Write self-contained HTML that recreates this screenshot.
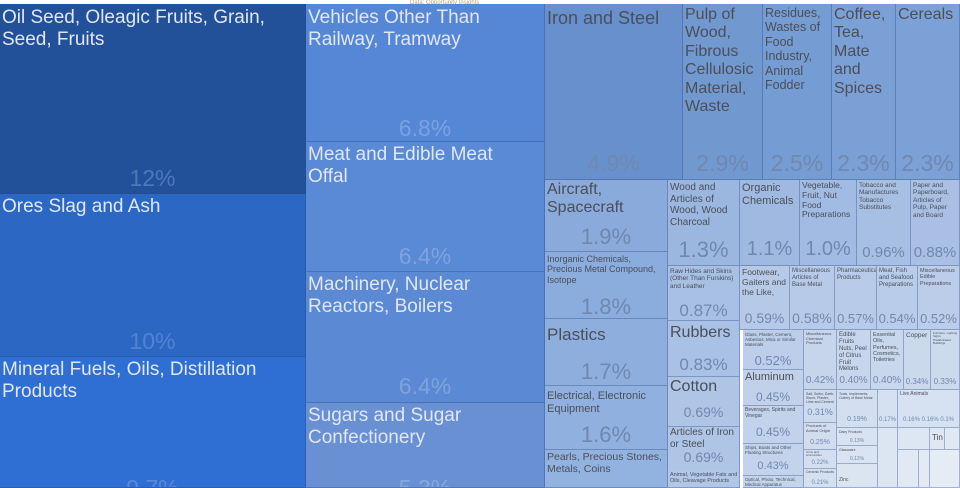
<!DOCTYPE html>
<html><head><meta charset="utf-8"><style>
html,body{margin:0;padding:0;background:#fff;}
#c{position:relative;width:960px;height:488px;overflow:hidden;font-family:"Liberation Sans",sans-serif;background:#fff;}
.b{position:absolute;box-sizing:border-box;overflow:hidden;border-right:1px solid rgba(40,70,130,0.35);border-bottom:1px solid rgba(40,70,130,0.35);}
.l{position:absolute;left:2px;top:1px;right:1px;line-height:1.15;}
.p{position:absolute;left:0;right:0;text-align:center;}
.d .l{color:#dfe7f6;}
.d .p{color:#6a93d3;}
.m .l{color:#4a4f5a;}
.m .p{color:#7088b0;}
</style></head><body><div id="c">
<div style="position:absolute;left:410px;top:0;font-size:6px;color:#c9a070;">Data: Opportunity Insights</div>

<div class="b d" style="left:0;top:4px;width:306px;height:190px;background:#22519a;"><div class="l" style="font-size:19px;top:3px;">Oil Seed, Oleagic Fruits, Grain, Seed, Fruits</div><div class="p" style="font-size:23px;top:161px;color:#4d78b9;">12%</div></div>
<div class="b d" style="left:0;top:194px;width:306px;height:163px;background:#2c67c4;"><div class="l" style="font-size:19px;top:2px;">Ores Slag and Ash</div><div class="p" style="font-size:23px;top:134px;color:#5483cd;">10%</div></div>
<div class="b d" style="left:0;top:357px;width:306px;height:131px;background:#2f6ed2;"><div class="l" style="font-size:19px;top:2px;">Mineral Fuels, Oils, Distillation Products</div><div class="p" style="font-size:23px;top:118px;color:#5a8ad8;">9.7%</div></div>

<div class="b d" style="left:306px;top:4px;width:239px;height:138px;background:#5587d6;"><div class="l" style="font-size:19px;top:3px;">Vehicles Other Than Railway, Tramway</div><div class="p" style="font-size:23px;top:111px;color:#7ba2e0;">6.8%</div></div>
<div class="b d" style="left:306px;top:142px;width:239px;height:130px;background:#5a89d5;"><div class="l" style="font-size:19px;top:2px;right:20px;">Meat and Edible Meat Offal</div><div class="p" style="font-size:23px;top:101px;color:#7ea3de;">6.4%</div></div>
<div class="b d" style="left:306px;top:272px;width:239px;height:131px;background:#5b89d4;"><div class="l" style="font-size:19px;top:2px;">Machinery, Nuclear Reactors, Boilers</div><div class="p" style="font-size:23px;top:101px;color:#7ea3de;">6.4%</div></div>
<div class="b d" style="left:306px;top:403px;width:239px;height:85px;background:#6890d2;"><div class="l" style="font-size:19px;top:2px;">Sugars and Sugar Confectionery</div><div class="p" style="font-size:23px;top:72px;color:#87a9df;">5.3%</div></div>

<div class="b m" style="left:545px;top:4px;width:138px;height:176px;background:#6790cc;"><div class="l" style="font-size:18px;top:4px;">Iron and Steel</div><div class="p" style="font-size:23px;top:146px;">4.9%</div></div>
<div class="b m" style="left:683px;top:4px;width:80px;height:176px;background:#7199d0;"><div class="l" style="font-size:16px;top:2px;">Pulp of Wood, Fibrous Cellulosic Material, Waste</div><div class="p" style="font-size:23px;top:146px;">2.9%</div></div>
<div class="b m" style="left:763px;top:4px;width:69px;height:176px;background:#769dd3;"><div class="l" style="font-size:12.5px;top:2px;">Residues, Wastes of Food Industry, Animal Fodder</div><div class="p" style="font-size:23px;top:146px;">2.5%</div></div>
<div class="b m" style="left:832px;top:4px;width:64px;height:176px;background:#7aa0d5;"><div class="l" style="font-size:16px;top:2px;">Coffee, Tea, Mate and Spices</div><div class="p" style="font-size:23px;top:146px;">2.3%</div></div>
<div class="b m" style="left:896px;top:4px;width:64px;height:176px;background:#7ca1d6;"><div class="l" style="font-size:16px;top:2px;">Cereals</div><div class="p" style="font-size:23px;top:146px;">2.3%</div></div>

<div class="b m" style="left:545px;top:180px;width:123px;height:72px;background:#89aadb;"><div class="l" style="font-size:16px;">Aircraft, Spacecraft</div><div class="p" style="font-size:22px;top:44px;">1.9%</div></div>
<div class="b m" style="left:545px;top:252px;width:123px;height:67px;background:#8badde;"><div class="l" style="font-size:9px;top:2px;">Inorganic Chemicals, Precious Metal Compound, Isotope</div><div class="p" style="font-size:22px;top:42px;">1.8%</div></div>
<div class="b m" style="left:545px;top:319px;width:123px;height:67px;background:#8eafde;"><div class="l" style="font-size:17px;top:6px;">Plastics</div><div class="p" style="font-size:22px;top:40px;">1.7%</div></div>
<div class="b m" style="left:545px;top:386px;width:123px;height:64px;background:#90b0df;"><div class="l" style="font-size:11px;top:4px;">Electrical, Electronic Equipment</div><div class="p" style="font-size:22px;top:36px;">1.6%</div></div>
<div class="b m" style="left:545px;top:450px;width:123px;height:38px;background:#92b2df;"><div class="l" style="font-size:10.5px;top:1px;">Pearls, Precious Stones, Metals, Coins</div></div>

<div class="b m" style="left:668px;top:180px;width:72px;height:86px;background:#9bb7e0;"><div class="l" style="font-size:10px;top:2px;">Wood and Articles of Wood, Wood Charcoal</div><div class="p" style="font-size:22px;top:57px;">1.3%</div></div>
<div class="b m" style="left:668px;top:266px;width:72px;height:55px;background:#a8c0e4;"><div class="l" style="font-size:6.5px;top:2px;">Raw Hides and Skins (Other Than Furskins) and Leather</div><div class="p" style="font-size:17px;top:35px;">0.87%</div></div>
<div class="b m" style="left:668px;top:321px;width:72px;height:56px;background:#a9c1e5;"><div class="l" style="font-size:16px;top:3px;">Rubbers</div><div class="p" style="font-size:17px;top:34px;">0.83%</div></div>
<div class="b m" style="left:668px;top:377px;width:72px;height:50px;background:#afc5e6;"><div class="l" style="font-size:16px;top:1px;">Cotton</div><div class="p" style="font-size:14px;top:27px;">0.69%</div></div>
<div class="b m" style="left:668px;top:427px;width:72px;height:49px;background:#afc5e6;"><div class="l" style="font-size:10px;top:0;">Articles of Iron or Steel</div><div class="p" style="font-size:14px;top:22px;">0.69%</div></div>
<div class="b m" style="left:668px;top:470px;width:72px;height:18px;background:#b1c7e7;"><div class="l" style="font-size:5.5px;top:2px;">Animal, Vegetable Fats and Oils, Cleavage Products</div></div>

<div class="b m" style="left:740px;top:180px;width:60px;height:86px;background:#9fb9e1;"><div class="l" style="font-size:11px;top:2px;">Organic Chemicals</div><div class="p" style="font-size:20px;top:58px;">1.1%</div></div>
<div class="b m" style="left:800px;top:180px;width:57px;height:86px;background:#a2bbe2;"><div class="l" style="font-size:8.5px;top:1px;">Vegetable, Fruit, Nut Food Preparations</div><div class="p" style="font-size:20px;top:58px;">1.0%</div></div>
<div class="b m" style="left:857px;top:180px;width:54px;height:86px;background:#a7bfe3;"><div class="l" style="font-size:6.5px;top:2px;">Tobacco and Manufactures Tobacco Substitutes</div><div class="p" style="font-size:15px;top:64px;">0.96%</div></div>
<div class="b m" style="left:911px;top:180px;width:49px;height:86px;background:#a9c0e4;"><div class="l" style="font-size:6.5px;top:2px;">Paper and Paperboard, Articles of Pulp, Paper and Board</div><div class="p" style="font-size:15px;top:64px;">0.88%</div></div>

<div class="b m" style="left:740px;top:266px;width:50px;height:64px;background:#b6cae8;"><div class="l" style="font-size:8.5px;top:2px;">Footwear, Gaiters and the Like,</div><div class="p" style="font-size:14px;top:44px;">0.59%</div></div>
<div class="b m" style="left:790px;top:266px;width:45px;height:64px;background:#b7cbe8;"><div class="l" style="font-size:6px;top:2px;">Miscellaneous Articles of Base Metal</div><div class="p" style="font-size:14px;top:44px;">0.58%</div></div>
<div class="b m" style="left:835px;top:266px;width:42px;height:64px;background:#b8cbe8;"><div class="l" style="font-size:6px;top:2px;">Pharmaceutical Products</div><div class="p" style="font-size:13px;top:45px;">0.57%</div></div>
<div class="b m" style="left:877px;top:266px;width:41px;height:64px;background:#b9cce9;"><div class="l" style="font-size:6px;top:2px;">Meat, Fish and Seafood Preparations</div><div class="p" style="font-size:13px;top:45px;">0.54%</div></div>
<div class="b m" style="left:918px;top:266px;width:42px;height:64px;background:#bbcde9;"><div class="l" style="font-size:5.5px;top:2px;">Miscellaneous Edible Preparations</div><div class="p" style="font-size:13px;top:45px;">0.52%</div></div>

<div class="b m" style="left:743px;top:330px;width:61px;height:40px;background:#bccee9;"><div class="l" style="font-size:4.5px;top:2px;">Glass, Plaster, Cement, Asbestos, Mica or Similar Materials</div><div class="p" style="font-size:13px;top:23px;">0.52%</div></div>
<div class="b m" style="left:743px;top:370px;width:61px;height:36px;background:#c1d1ea;"><div class="l" style="font-size:11px;top:1px;">Aluminum</div><div class="p" style="font-size:12px;top:20px;">0.45%</div></div>
<div class="b m" style="left:743px;top:406px;width:61px;height:38px;background:#c2d2ea;"><div class="l" style="font-size:5px;top:2px;">Beverages, Spirits and Vinegar</div><div class="p" style="font-size:12px;top:19px;">0.45%</div></div>
<div class="b m" style="left:743px;top:444px;width:61px;height:32px;background:#c3d3eb;"><div class="l" style="font-size:4.5px;top:1px;">Ships, Boats and Other Floating Structures</div><div class="p" style="font-size:11px;top:16px;">0.43%</div></div>
<div class="b m" style="left:743px;top:476px;width:61px;height:12px;background:#c4d4eb;"><div class="l" style="font-size:4.5px;top:1px;">Optical, Photo, Technical, Medical Apparatus</div></div>

<div class="b m" style="left:804px;top:330px;width:33px;height:60px;background:#c6d5ec;"><div class="l" style="font-size:4px;top:2px;">Miscellaneous Chemical Products</div><div class="p" style="font-size:10px;top:45px;">0.42%</div></div>
<div class="b m" style="left:837px;top:330px;width:34px;height:60px;background:#c7d6ec;"><div class="l" style="font-size:6px;top:2px;">Edible Fruits Nuts, Peel of Citrus Fruit Melons</div><div class="p" style="font-size:10px;top:45px;">0.40%</div></div>
<div class="b m" style="left:871px;top:330px;width:33px;height:60px;background:#c8d7ec;"><div class="l" style="font-size:5.5px;top:2px;">Essential Oils, Perfumes, Cosmetics, Toiletries</div><div class="p" style="font-size:10px;top:45px;">0.40%</div></div>
<div class="b m" style="left:904px;top:330px;width:27px;height:60px;background:#cbd9ed;"><div class="l" style="font-size:6.5px;top:2px;">Copper</div><div class="p" style="font-size:8px;top:47px;">0.34%</div></div>
<div class="b m" style="left:931px;top:330px;width:29px;height:60px;background:#ccdaee;"><div class="l" style="font-size:3px;top:2px;">Furniture, Lighting Signs, Prefabricated Buildings</div><div class="p" style="font-size:8px;top:47px;">0.33%</div></div>

<div class="b m" style="left:804px;top:390px;width:33px;height:33px;background:#cedbee;"><div class="l" style="font-size:3.5px;top:2px;">Salt, Sulfur, Earth, Stone, Plaster, Lime and Cement</div><div class="p" style="font-size:9px;top:17px;">0.31%</div></div>
<div class="b m" style="left:804px;top:423px;width:33px;height:27px;background:#d1ddef;"><div class="l" style="font-size:4px;top:1px;">Products of Animal Origin</div><div class="p" style="font-size:7px;top:16px;">0.25%</div></div>
<div class="b m" style="left:804px;top:450px;width:33px;height:19px;background:#d3dff0;"><div class="l" style="font-size:3px;top:1px;">Arms and Ammunition</div><div class="p" style="font-size:6px;top:10px;">0.22%</div></div>
<div class="b m" style="left:804px;top:469px;width:33px;height:19px;background:#d4e0f0;"><div class="l" style="font-size:3.5px;top:1px;">Ceramic Products</div><div class="p" style="font-size:6px;top:11px;">0.21%</div></div>

<div class="b m" style="left:837px;top:390px;width:41px;height:38px;background:#d3dff0;"><div class="l" style="font-size:3.5px;top:2px;">Tools, Implements, Cutlery of Base Metal</div><div class="p" style="font-size:7px;top:26px;">0.19%</div></div>
<div class="b m" style="left:878px;top:390px;width:20px;height:38px;background:#d5e0f0;"><div class="p" style="font-size:6px;top:27px;">0.17%</div></div>
<div class="b m" style="left:898px;top:390px;width:62px;height:38px;background:#d6e1f1;"><div class="l" style="font-size:5px;top:2px;">Live Animals</div><div class="p" style="font-size:6px;top:27px;">0.16% 0.16% 0.1%</div></div>
<div class="b m" style="left:837px;top:428px;width:41px;height:18px;background:#d8e2f1;"><div class="l" style="font-size:3.5px;top:2px;">Dairy Products</div><div class="p" style="font-size:5px;top:10px;">0.13%</div></div>
<div class="b m" style="left:837px;top:446px;width:41px;height:18px;background:#d9e3f2;"><div class="l" style="font-size:3.5px;top:2px;">Glassware</div><div class="p" style="font-size:5px;top:10px;">0.12%</div></div>
<div class="b m" style="left:837px;top:464px;width:41px;height:24px;background:#dbe5f2;"><div class="l" style="font-size:5px;top:14px;">Zinc</div></div>
<div class="b m" style="left:878px;top:428px;width:20px;height:60px;background:#dce5f2;"></div>
<div class="b m" style="left:898px;top:428px;width:32px;height:22px;background:#dde6f3;"></div>
<div class="b m" style="left:930px;top:428px;width:15px;height:22px;background:#dfe7f3;"><div class="l" style="font-size:8px;top:5px;">Tin</div></div>
<div class="b m" style="left:945px;top:428px;width:15px;height:22px;background:#e0e8f4;"></div>
<div class="b m" style="left:898px;top:450px;width:21px;height:38px;background:#e1e9f4;"></div>
<div class="b m" style="left:919px;top:450px;width:11px;height:38px;background:#e3eaf4;"></div>
<div class="b m" style="left:930px;top:450px;width:30px;height:38px;background:#e6ecf5;"></div>
</div></body></html>
